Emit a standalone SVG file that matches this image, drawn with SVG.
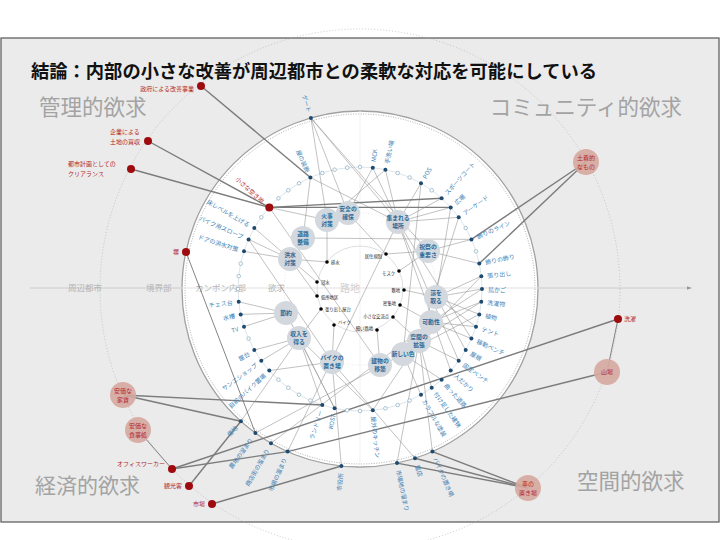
<svg xmlns="http://www.w3.org/2000/svg" width="720" height="540" viewBox="0 0 720 540">
<style>
text{font-family:"Noto Sans CJK JP","Noto Sans",sans-serif}
.ttl{font-size:18.3px;font-weight:bold;fill:#111}
.q{font-size:21.5px;fill:#a3a3a3}
.ax{font-size:8.5px;fill:#b4b4b4}
.lb{font-size:6px;fill:#3d7fb5;dominant-baseline:central}
.le{text-anchor:end}
.fn{fill:#1d4a70}
.hn{fill:#fff;stroke:#86aac2;stroke-width:.7}
.blob{fill:#d2d8dd}
.bt{font-size:5.8px;font-weight:bold;fill:#2c6797;text-anchor:middle}
.dl{font-size:4.3px;fill:#222;dominant-baseline:central}
.il{stroke:#8f8f8f;stroke-width:.55;fill:none}
.ol{stroke:#7c7c7c;stroke-width:1.4;fill:none}
.tl{stroke:#666;stroke-width:.8;fill:none}
.rd{fill:#9e0b0f}
.rl{font-size:6px;fill:#b3262a}
.pk{fill:#d6a99f;opacity:.9}
.pt{font-size:6px;fill:#b3262a;text-anchor:middle}
</style>
<rect x="0" y="0" width="720" height="540" fill="#fff"/>
<rect x="1" y="38" width="718" height="484" fill="#ebebeb" stroke="#555" stroke-width="1.2"/>
<text class="ttl" x="31" y="78">結論：内部の小さな改善が周辺都市との柔軟な対応を可能にしている</text>
<text class="q" x="39" y="115">管理的欲求</text>
<text class="q" x="682" y="115" text-anchor="end">コミュニティ的欲求</text>
<text class="q" x="35" y="492.5" style="font-size:21px">経済的欲求</text>
<text class="q" x="577" y="489">空間的欲求</text>
<!-- outer dashed circle and axes -->
<circle cx="360" cy="289" r="260" fill="none" stroke="#a8a8a8" stroke-width=".6" stroke-dasharray="1,2"/>
<line x1="30" y1="288" x2="690" y2="288" stroke="#c4c4c4" stroke-width=".8"/>
<path d="M692 288 l-5 -1.8 v3.6z" fill="#999"/>
<text class="ax" x="68" y="291">周辺都市</text>
<text class="ax" x="146" y="291">境界部</text>
<!-- disc -->
<circle cx="360" cy="289" r="178" fill="#fff" stroke="#a0a0a0" stroke-width="1.3"/>
<circle cx="360" cy="289" r="175" fill="none" stroke="#777" stroke-width=".6" stroke-dasharray="1,1.5"/>
<line x1="180" y1="288" x2="540" y2="288" stroke="#e2e2e2" stroke-width="1.2"/>
<line x1="360" y1="111" x2="360" y2="467" stroke="#ededed" stroke-width=".8"/>
<text class="ax" x="195" y="291">カンポン内部</text>
<text class="ax" x="268" y="291">欲求</text>
<text class="ax" x="340" y="292" style="font-size:10px;fill:#cfcfcf">路地</text>
<circle cx="360" cy="289" r="76" fill="none" stroke="#d6d6d6" stroke-width=".6" stroke-dasharray="1,2"/>
<circle cx="360" cy="289" r="43" fill="none" stroke="#c8c8c8" stroke-width=".6"/>
<circle cx="360" cy="289" r="122" fill="none" stroke="#d3dde5" stroke-width=".8"/>
<!-- connectors -->
<g id="connectors">
<g class="il">
<line x1="310.9" y1="117.9" x2="327" y2="220"/>
<line x1="310.9" y1="117.9" x2="348" y2="213"/>
<line x1="310.9" y1="117.9" x2="398" y2="222"/>
<line x1="310.9" y1="117.9" x2="428" y2="251"/>
<line x1="310.4" y1="177.5" x2="398" y2="222"/>
<line x1="310.4" y1="177.5" x2="303" y2="238"/>
<line x1="372.8" y1="167.7" x2="348" y2="213"/>
<line x1="372.8" y1="167.7" x2="398" y2="222"/>
<line x1="385.4" y1="169.7" x2="398" y2="222"/>
<line x1="385.4" y1="169.7" x2="327" y2="220"/>
<line x1="421" y1="183.3" x2="398" y2="222"/>
<line x1="421" y1="183.3" x2="403" y2="354"/>
<line x1="441.6" y1="198.3" x2="398" y2="222"/>
<line x1="450.7" y1="207.4" x2="398" y2="222"/>
<line x1="450.7" y1="207.4" x2="436" y2="297"/>
<line x1="458.7" y1="217.3" x2="398" y2="222"/>
<line x1="458.7" y1="217.3" x2="419" y2="341"/>
<line x1="471.4" y1="239.4" x2="428" y2="251"/>
<line x1="471.4" y1="239.4" x2="303" y2="238"/>
<line x1="479.3" y1="263.6" x2="428" y2="251"/>
<line x1="481.3" y1="276.2" x2="436" y2="297"/>
<line x1="481.3" y1="276.2" x2="419" y2="341"/>
<line x1="482" y1="289" x2="436" y2="297"/>
<line x1="482" y1="289" x2="431" y2="322"/>
<line x1="481.3" y1="301.8" x2="431" y2="322"/>
<line x1="481.3" y1="301.8" x2="419" y2="341"/>
<line x1="479.3" y1="314.4" x2="436" y2="297"/>
<line x1="479.3" y1="314.4" x2="403" y2="354"/>
<line x1="476" y1="326.7" x2="436" y2="297"/>
<line x1="476" y1="326.7" x2="431" y2="322"/>
<line x1="471.4" y1="338.6" x2="431" y2="322"/>
<line x1="471.4" y1="338.6" x2="398" y2="222"/>
<line x1="465.7" y1="350" x2="436" y2="297"/>
<line x1="458.7" y1="360.7" x2="419" y2="341"/>
<line x1="458.7" y1="360.7" x2="398" y2="222"/>
<line x1="450.7" y1="370.6" x2="398" y2="222"/>
<line x1="441.6" y1="379.7" x2="403" y2="354"/>
<line x1="431.7" y1="387.7" x2="419" y2="341"/>
<line x1="421" y1="394.7" x2="403" y2="354"/>
<line x1="372.8" y1="410.3" x2="419" y2="341"/>
<line x1="372.8" y1="410.3" x2="299" y2="338"/>
<line x1="334.6" y1="408.3" x2="299" y2="338"/>
<line x1="334.6" y1="408.3" x2="286" y2="313"/>
<line x1="322.3" y1="405" x2="299" y2="338"/>
<line x1="269.3" y1="370.6" x2="332" y2="362"/>
<line x1="261.3" y1="360.7" x2="299" y2="338"/>
<line x1="254.3" y1="350" x2="299" y2="338"/>
<line x1="244" y1="326.7" x2="286" y2="313"/>
<line x1="240.7" y1="314.4" x2="286" y2="313"/>
<line x1="238.7" y1="301.8" x2="286" y2="313"/>
<line x1="244" y1="251.3" x2="290" y2="259"/>
<line x1="248.6" y1="239.4" x2="290" y2="259"/>
<line x1="248.6" y1="239.4" x2="332" y2="362"/>
<line x1="254.3" y1="228" x2="290" y2="259"/>
<line x1="269.3" y1="207.4" x2="380" y2="365"/>
<line x1="269.3" y1="207.4" x2="327" y2="220"/>
<line x1="240.9" y1="421.3" x2="299" y2="338"/>
<line x1="255.4" y1="433" x2="403" y2="354"/>
<line x1="271" y1="443.2" x2="431" y2="322"/>
<line x1="287.6" y1="451.6" x2="398" y2="222"/>
<line x1="341.4" y1="466" x2="332" y2="362"/>
<line x1="397" y1="463.1" x2="419" y2="341"/>
<line x1="415" y1="458.3" x2="332" y2="362"/>
<line x1="432.4" y1="451.6" x2="419" y2="341"/>
<line x1="327" y1="262" x2="290" y2="259"/>
<line x1="317" y1="282" x2="290" y2="259"/>
<line x1="317" y1="296" x2="290" y2="259"/>
<line x1="321" y1="309" x2="299" y2="338"/>
<line x1="334" y1="325" x2="332" y2="362"/>
<line x1="386" y1="254" x2="428" y2="251"/>
<line x1="399" y1="271" x2="428" y2="251"/>
<line x1="404" y1="290" x2="436" y2="297"/>
<line x1="400" y1="305" x2="431" y2="322"/>
<line x1="393" y1="317" x2="419" y2="341"/>
<line x1="377" y1="330" x2="380" y2="365"/>
<line x1="327" y1="220" x2="327" y2="262"/>
<line x1="348" y1="213" x2="386" y2="254"/>
</g>
<g class="ol">
<line x1="201" y1="86" x2="310.4" y2="177.5"/>
<line x1="148" y1="141" x2="269.3" y2="207.4"/>
<line x1="131" y1="169" x2="269.3" y2="207.4"/>
<line x1="269.3" y1="207.4" x2="441.6" y2="198.3"/>
<line x1="269.3" y1="207.4" x2="450.7" y2="207.4"/>
<line x1="586" y1="162" x2="471.4" y2="239.4"/>
<line x1="586" y1="162" x2="479.3" y2="263.6"/>
<line x1="618" y1="319" x2="172" y2="469"/>
<line x1="607" y1="372" x2="287.6" y2="451.6"/>
<line x1="123" y1="395" x2="322.3" y2="405"/>
<line x1="123" y1="395" x2="240.9" y2="421.3"/>
<line x1="172" y1="469" x2="287.6" y2="451.6"/>
<line x1="189" y1="486" x2="240.9" y2="421.3"/>
<line x1="212" y1="504" x2="341.4" y2="466"/>
<line x1="528" y1="488" x2="397" y2="463.1"/>
<line x1="528" y1="488" x2="415" y2="458.3"/>
<line x1="528" y1="488" x2="432.4" y2="451.6"/>
</g>
<g class="tl">
<line x1="186" y1="252" x2="255.4" y2="433"/>
<line x1="618" y1="319" x2="607" y2="372"/>
<line x1="138" y1="430" x2="172" y2="469"/>
</g>
</g>
<!-- ring hollow nodes -->
<g id="ring-hollow" class="hn">
<circle cx="360" cy="167" r="1.8"/><circle cx="397.7" cy="173" r="1.8"/><circle cx="409.6" cy="177.5" r="1.8"/>
<circle cx="431.7" cy="190.3" r="1.8"/><circle cx="465.7" cy="228" r="1.8"/><circle cx="476" cy="251.3" r="1.8"/>
<circle cx="409.6" cy="400.5" r="1.8"/><circle cx="397.7" cy="405" r="1.8"/><circle cx="385.4" cy="408.3" r="1.8"/>
<circle cx="360" cy="411" r="1.8"/><circle cx="347.2" cy="410.3" r="1.8"/><circle cx="310.4" cy="400.5" r="1.8"/>
<circle cx="299" cy="394.7" r="1.8"/><circle cx="288.3" cy="387.7" r="1.8"/><circle cx="278.4" cy="379.7" r="1.8"/>
<circle cx="248.6" cy="338.6" r="1.8"/><circle cx="238" cy="289" r="1.8"/><circle cx="238.7" cy="276.2" r="1.8"/>
<circle cx="240.7" cy="263.6" r="1.8"/><circle cx="261.3" cy="217.3" r="1.8"/><circle cx="278.4" cy="198.3" r="1.8"/>
<circle cx="288.3" cy="190.3" r="1.8"/><circle cx="299" cy="183.3" r="1.8"/><circle cx="322.3" cy="173" r="1.8"/>
<circle cx="334.6" cy="169.7" r="1.8"/><circle cx="347.2" cy="167.7" r="1.8"/>
</g>
<!-- ring labelled nodes: right half -->
<g id="n-mck"><circle class="fn" cx="372.8" cy="167.7" r="2"/><text class="lb" transform="rotate(-84 360 289)" x="488" y="289">MCK</text></g>
<g id="n-tearai"><circle class="fn" cx="385.4" cy="169.7" r="2"/><text class="lb" transform="rotate(-78 360 289)" x="488" y="289">手洗い場</text></g>
<g id="n-pos"><circle class="fn" cx="421" cy="183.3" r="2"/><text class="lb" transform="rotate(-60 360 289)" x="488" y="289">POS</text></g>
<g id="n-sports"><circle class="fn" cx="441.6" cy="198.3" r="2"/><text class="lb" transform="rotate(-48 360 289)" x="488" y="289">スポーツコート</text></g>
<g id="n-hiroba"><circle class="fn" cx="450.7" cy="207.4" r="2"/><text class="lb" transform="rotate(-42 360 289)" x="488" y="289">広場</text></g>
<g id="n-arcade"><circle class="fn" cx="458.7" cy="217.3" r="2"/><text class="lb" transform="rotate(-36 360 289)" x="488" y="289">アーケード</text></g>
<g id="n-kazariline"><circle class="fn" cx="471.4" cy="239.4" r="2"/><text class="lb" transform="rotate(-24 360 289)" x="488" y="289">飾りのライン</text></g>
<g id="n-kazari"><circle class="fn" cx="479.3" cy="263.6" r="2"/><text class="lb" transform="rotate(-12 360 289)" x="488" y="289">飾りの飾り</text></g>
<g id="n-haridashi"><circle class="fn" cx="481.3" cy="276.2" r="2"/><text class="lb" transform="rotate(-6 360 289)" x="488" y="289">張り出し</text></g>
<g id="n-torikago"><circle class="fn" cx="482" cy="289" r="2"/><text class="lb" x="488" y="289">鳥かご</text></g>
<g id="n-sentakumono"><circle class="fn" cx="481.3" cy="301.8" r="2"/><text class="lb" transform="rotate(6 360 289)" x="488" y="289">洗濯物</text></g>
<g id="n-shokubutsu"><circle class="fn" cx="479.3" cy="314.4" r="2"/><text class="lb" transform="rotate(12 360 289)" x="488" y="289">植物</text></g>
<g id="n-tent"><circle class="fn" cx="476" cy="326.7" r="2"/><text class="lb" transform="rotate(18 360 289)" x="488" y="289">テント</text></g>
<g id="n-idobench"><circle class="fn" cx="471.4" cy="338.6" r="2"/><text class="lb" transform="rotate(24 360 289)" x="488" y="289">移動ベンチ</text></g>
<g id="n-yane"><circle class="fn" cx="465.7" cy="350" r="2"/><text class="lb" transform="rotate(30 360 289)" x="488" y="289">屋根</text></g>
<g id="n-koteibench"><circle class="fn" cx="458.7" cy="360.7" r="2"/><text class="lb" transform="rotate(36 360 289)" x="488" y="289">固定ベンチ</text></g>
<g id="n-hitodakari"><circle class="fn" cx="450.7" cy="370.6" r="2"/><text class="lb" transform="rotate(42 360 289)" x="488" y="289">人だかり</text></g>
<g id="n-magatta"><circle class="fn" cx="441.6" cy="379.7" r="2"/><text class="lb" transform="rotate(48 360 289)" x="488" y="289">曲った道路</text></g>
<g id="n-tsuketashi"><circle class="fn" cx="431.7" cy="387.7" r="2"/><text class="lb" transform="rotate(54 360 289)" x="488" y="289">付け足した建物</text></g>
<g id="n-colorful"><circle class="fn" cx="421" cy="394.7" r="2"/><text class="lb" transform="rotate(60 360 289)" x="488" y="289">カラフルな塗装</text></g>
<g id="n-kitchen"><circle class="fn" cx="372.8" cy="410.3" r="2"/><text class="lb" transform="rotate(84 360 289)" x="488" y="289">屋外のキッチン</text></g>
<!-- left half -->
<g id="n-kost"><circle class="fn" cx="334.6" cy="408.3" r="2"/><text class="lb le" transform="rotate(282 360 289)" x="232" y="289">KOST</text></g>
<g id="n-laundry"><circle class="fn" cx="322.3" cy="405" r="2"/><text class="lb le" transform="rotate(288 360 289)" x="232" y="289">ランドリー</text></g>
<g id="n-jimae"><circle class="fn" cx="269.3" cy="370.6" r="2"/><text class="lb le" transform="rotate(318 360 289)" x="232" y="289">自前のバイク置場</text></g>
<g id="n-shop"><circle class="fn" cx="261.3" cy="360.7" r="2"/><text class="lb le" transform="rotate(324 360 289)" x="232" y="289">サンエショップ</text></g>
<g id="n-yatai"><circle class="fn" cx="254.3" cy="350" r="2"/><text class="lb le" transform="rotate(330 360 289)" x="232" y="289">屋台</text></g>
<g id="n-tv"><circle class="fn" cx="244" cy="326.7" r="2"/><text class="lb le" transform="rotate(342 360 289)" x="232" y="289">TV</text></g>
<g id="n-suiso"><circle class="fn" cx="240.7" cy="314.4" r="2"/><text class="lb le" transform="rotate(348 360 289)" x="232" y="289">水槽</text></g>
<g id="n-chess"><circle class="fn" cx="238.7" cy="301.8" r="2"/><text class="lb le" transform="rotate(354 360 289)" x="232" y="289">チェス台</text></g>
<g id="n-door"><circle class="fn" cx="244" cy="251.3" r="2"/><text class="lb le" transform="rotate(18 360 289)" x="232" y="289">ドアの洪水対策</text></g>
<g id="n-slope"><circle class="fn" cx="248.6" cy="239.4" r="2"/><text class="lb le" transform="rotate(24 360 289)" x="232" y="289">バイク用スロープ</text></g>
<g id="n-yuka"><circle class="fn" cx="254.3" cy="228" r="2"/><text class="lb le" transform="rotate(30 360 289)" x="232" y="289">床レベルを上げる</text></g>
<g id="n-akichi"><circle class="rd" cx="269.3" cy="207.4" r="4"/><text class="lb le" transform="rotate(42 360 289)" x="230" y="289" style="fill:#b3262a">小さな空き地</text></g>
<g id="n-soshoku"><circle class="fn" cx="310.4" cy="177.5" r="2"/><text class="lb le" transform="rotate(66 360 289)" x="232" y="289">屋の装飾</text></g>
<!-- edge nodes -->
<g id="e-gate"><circle class="fn" cx="310.9" cy="117.9" r="2"/><text class="lb le" transform="rotate(74 360 289)" x="176" y="289">ゲート</text></g>
<g id="e-hei"><circle class="rd" cx="186" cy="252" r="4"/><text class="rl" x="179" y="254" text-anchor="end">塀</text></g>
<g id="e-132"><circle class="fn" cx="240.9" cy="421.3" r="2"/><text class="lb le" transform="rotate(312 360 289)" x="175" y="289">借地</text></g>
<g id="e-126"><circle class="fn" cx="255.4" cy="433" r="2"/><text class="lb le" transform="rotate(306 360 289)" x="175" y="289">農地の溜まり</text></g>
<g id="e-120"><circle class="fn" cx="271" cy="443.2" r="2"/><text class="lb le" transform="rotate(300 360 289)" x="175" y="289">商店街の溜まり</text></g>
<g id="e-114"><circle class="fn" cx="287.6" cy="451.6" r="2"/><text class="lb le" transform="rotate(294 360 289)" x="175" y="289">市場の溜まり</text></g>
<g id="e-96"><circle class="fn" cx="341.4" cy="466" r="2"/><text class="lb le" transform="rotate(276 360 289)" x="175" y="289">市役所</text></g>
<g id="e-78"><circle class="fn" cx="397" cy="463.1" r="2"/><text class="lb" transform="rotate(78 360 289)" x="545" y="289">市場地の溜まり</text></g>
<g id="e-72"><circle class="fn" cx="415" cy="458.3" r="2"/><text class="lb" transform="rotate(72 360 289)" x="545" y="289">露店</text></g>
<g id="e-66"><circle class="fn" cx="432.4" cy="451.6" r="2"/><text class="lb" transform="rotate(66 360 289)" x="545" y="289">バイクの置き場</text></g>
<!-- blobs -->
<g id="b-kaji"><circle class="blob" cx="327" cy="220" r="12"/><text class="bt" x="327" y="217.5">火事</text><text class="bt" x="327" y="225.5">対策</text></g>
<g id="b-anzen"><circle class="blob" cx="348" cy="213" r="12"/><text class="bt" x="348" y="210.5">安全の</text><text class="bt" x="348" y="218.5">確保</text></g>
<g id="b-doro"><circle class="blob" cx="303" cy="238" r="12"/><text class="bt" x="303" y="235.5">道路</text><text class="bt" x="303" y="243.5">整備</text></g>
<g id="b-kozui"><circle class="blob" cx="290" cy="259" r="12"/><text class="bt" x="290" y="256.5">洪水</text><text class="bt" x="290" y="264.5">対策</text></g>
<g id="b-setsuyaku"><circle class="blob" cx="286" cy="313" r="12"/><text class="bt" x="286" y="315">節約</text></g>
<g id="b-shunyu"><circle class="blob" cx="299" cy="338" r="12"/><text class="bt" x="299" y="335.5">収入を</text><text class="bt" x="299" y="343.5">得る</text></g>
<g id="b-bike"><circle class="blob" cx="332" cy="362" r="12"/><text class="bt" x="332" y="359.5">バイクの</text><text class="bt" x="332" y="367.5">置き場</text></g>
<g id="b-atsumareru"><circle class="blob" cx="398" cy="222" r="12"/><text class="bt" x="398" y="219.5">集まれる</text><text class="bt" x="398" y="227.5">場所</text></g>
<g id="b-shukusai"><circle class="blob" cx="428" cy="251" r="12"/><text class="bt" x="428" y="248.5">祝祭の</text><text class="bt" x="428" y="256.5">重要さ</text></g>
<g id="b-ryo"><circle class="blob" cx="436" cy="297" r="12"/><text class="bt" x="436" y="294.5">涼を</text><text class="bt" x="436" y="302.5">取る</text></g>
<g id="b-kado"><circle class="blob" cx="431" cy="322" r="12"/><text class="bt" x="431" y="324">可動性</text></g>
<g id="b-kakucho"><circle class="blob" cx="419" cy="341" r="12"/><text class="bt" x="419" y="338.5">空間の</text><text class="bt" x="419" y="346.5">拡張</text></g>
<g id="b-iro"><circle class="blob" cx="403" cy="354" r="12"/><text class="bt" x="403" y="356">新しい色</text></g>
<g id="b-iciku"><circle class="blob" cx="380" cy="365" r="12"/><text class="bt" x="380" y="362.5">建物の</text><text class="bt" x="380" y="370.5">移築</text></g>
<!-- black dots -->
<g id="d-haisui"><circle cx="327" cy="262" r="1.8"/><text class="dl" x="331" y="262">排水</text></g>
<g id="d-kansui"><circle cx="317" cy="282" r="1.8"/><text class="dl" x="321" y="282">冠水</text></g>
<g id="d-teisho"><circle cx="317" cy="296" r="1.8"/><text class="dl" x="321" y="297">低所地区</text></g>
<g id="d-yatai"><circle cx="321" cy="309" r="1.8"/><text class="dl" x="325" y="309">張り出し屋台</text></g>
<g id="d-bike"><circle cx="334" cy="325" r="1.8"/><text class="dl" x="338" y="322">バイク</text></g>
<g id="d-kyoju"><circle cx="386" cy="254" r="1.8"/><text class="dl le" x="382" y="256">居住規制</text></g>
<g id="d-mosque"><circle cx="399" cy="271" r="1.8"/><text class="dl le" x="395" y="273">モスク</text></g>
<g id="d-shikichi"><circle cx="404" cy="290" r="1.8"/><text class="dl le" x="400" y="290">敷地</text></g>
<g id="d-misshu"><circle cx="400" cy="305" r="1.8"/><text class="dl le" x="396" y="303">密集地</text></g>
<g id="d-koryu"><circle cx="393" cy="317" r="1.8"/><text class="dl le" x="389" y="316">小さな交流点</text></g>
<g id="d-roji"><circle cx="377" cy="330" r="1.8"/><text class="dl le" x="373" y="328">細い路地</text></g>
<!-- outer requirement nodes -->
<g id="o-seifu"><circle class="rd" cx="201" cy="86" r="4"/><text class="rl" x="194" y="90.5" text-anchor="end">政府による改善事業</text></g>
<g id="o-kigyo"><circle class="rd" cx="148" cy="141" r="4"/><text class="rl" x="110" y="134">企業による</text><text class="rl" x="110" y="144">土地の買収</text></g>
<g id="o-toshi"><circle class="rd" cx="131" cy="169" r="4"/><text class="rl" x="68" y="166">都市計画としての</text><text class="rl" x="68" y="176">クリアランス</text></g>
<g id="o-dochaku"><circle class="pk" cx="586" cy="162" r="13"/><text class="pt" x="586" y="160">土着的</text><text class="pt" x="586" y="169">なもの</text></g>
<g id="o-sentaku"><circle class="rd" cx="618" cy="319" r="4"/><text class="rl" x="624" y="321">洗濯</text></g>
<g id="o-yamaba"><circle class="pk" cx="607" cy="372" r="13"/><text class="pt" x="607" y="374">山場</text></g>
<g id="o-kuruma"><circle class="pk" cx="528" cy="488" r="13"/><text class="pt" x="528" y="486">車の</text><text class="pt" x="528" y="495">置き場</text></g>
<g id="o-yachin"><circle class="pk" cx="123" cy="395" r="13"/><text class="pt" x="123" y="393">安価な</text><text class="pt" x="123" y="402">家賃</text></g>
<g id="o-shokuji"><circle class="pk" cx="138" cy="430" r="13"/><text class="pt" x="138" y="428">安価な</text><text class="pt" x="138" y="437">食事処</text></g>
<g id="o-office"><circle class="rd" cx="172" cy="469" r="4"/><text class="rl" x="165" y="466" text-anchor="end">オフィスワーカー</text></g>
<g id="o-kanko"><circle class="rd" cx="189" cy="486" r="4"/><text class="rl" x="182" y="488" text-anchor="end">観光客</text></g>
<g id="o-ichiba"><circle class="rd" cx="212" cy="504" r="4"/><text class="rl" x="205" y="506" text-anchor="end">市場</text></g>
</svg>
